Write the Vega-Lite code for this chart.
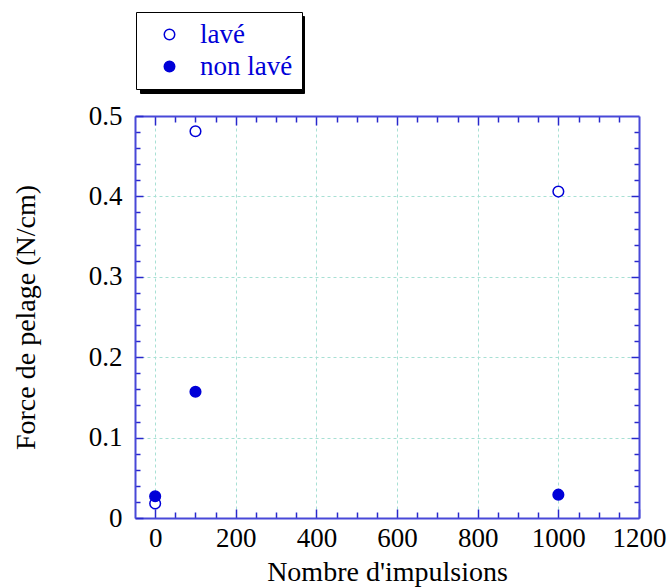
{
  "$schema": "https://vega.github.io/schema/vega-lite/v6.json",
  "autosize": {"type": "none"},
  "width": 504,
  "height": 402,
  "padding": {"left": 135, "top": 116, "right": 29, "bottom": 70},
  "background": "white",
  "config": {
    "view": {"stroke": null},
    "font": "Liberation Serif"
  },
  "data": {
    "values": [
      {"impulsions": 0, "force": 0.018, "serie": "lavé"},
      {"impulsions": 100, "force": 0.481, "serie": "lavé"},
      {"impulsions": 1000, "force": 0.406, "serie": "lavé"},
      {"impulsions": 0, "force": 0.027, "serie": "non lavé"},
      {"impulsions": 100, "force": 0.157, "serie": "non lavé"},
      {"impulsions": 1000, "force": 0.029, "serie": "non lavé"}
    ]
  },
  "resolve": {"axis": {"x": "independent", "y": "independent"}},
  "layer": [
    {
      "mark": {"type": "point", "shape": "circle", "opacity": 0},
      "encoding": {
        "x": {
          "field": "impulsions", "type": "quantitative",
          "scale": {"domain": [-50, 1200], "nice": false, "zero": false},
          "axis": {
            "orient": "top", "title": null, "labels": false, "grid": false,
            "values": [0,50,100,150,200,250,300,350,400,450,500,550,600,650,700,750,800,850,900,950,1000,1050,1100,1150],
            "domainColor": "#4848d8", "domainWidth": 2,
            "tickColor": "#2828cc", "tickWidth": 1.5,
            "tickSize": {"condition": {"test": "datum.value % 200 === 0", "value": -9}, "value": -6}
          }
        },
        "y": {
          "field": "force", "type": "quantitative",
          "scale": {"domain": [0, 0.5], "nice": false},
          "axis": {
            "orient": "right", "title": null, "labels": false, "grid": false,
            "values": [0.02,0.04,0.06,0.08,0.1,0.12,0.14,0.16,0.18,0.2,0.22,0.24,0.26,0.28,0.3,0.32,0.34,0.36,0.38,0.4,0.42,0.44,0.46,0.48],
            "domainColor": "#4848d8", "domainWidth": 2,
            "tickColor": "#2828cc", "tickWidth": 1.5,
            "tickSize": {"condition": {"test": "abs(datum.value*10 - round(datum.value*10)) < 0.001", "value": -8}, "value": -5}
          }
        },
        "shape": {
          "field": "serie", "type": "nominal",
          "scale": {"domain": ["non lavé", "lavé"], "range": ["circle", "circle"]},
          "legend": {
            "orient": "none", "legendX": 5, "legendY": -100, "title": null,
            "fillColor": "black", "strokeColor": "black", "zindex": 0,
            "padding": 9, "rowPadding": 4, "symbolOffset": 119, "labelOffset": 0,
            "symbolSize": 573, "symbolOpacity": 0, "symbolStrokeWidth": 0,
            "labelExpr": "''",
            "labelFont": "Liberation Serif", "labelFontSize": 27, "labelColor": "black"
          }
        }
      }
    },
    {
      "mark": {"type": "point", "shape": "circle", "size": 113, "strokeWidth": 1.5, "stroke": "#0000d8", "opacity": 1, "filled": false},
      "encoding": {
        "x": {
          "field": "impulsions", "type": "quantitative",
          "title": "Nombre d'impulsions",
          "axis": {
            "orient": "bottom", "format": "d",
            "values": [0,50,100,150,200,250,300,350,400,450,500,550,600,650,700,750,800,850,900,950,1000,1050,1100,1150,1200],
            "labelExpr": "datum.value % 200 === 0 ? datum.label : ''",
            "labelFont": "Liberation Serif", "labelFontSize": 27, "labelColor": "black",
            "labelPadding": 16, "labelFlush": false, "labelOverlap": false,
            "titleFont": "Liberation Serif", "titleFontSize": 28, "titleFontWeight": "normal", "titleColor": "black",
            "titlePadding": 4,
            "domainColor": "#4848d8", "domainWidth": 2,
            "tickColor": "#2828cc", "tickWidth": 1.5,
            "tickSize": {"condition": {"test": "datum.value % 200 === 0", "value": -9}, "value": -6},
            "grid": true, "gridColor": "#a8e0d4", "gridDash": [3, 3], "gridWidth": 1,
            "gridOpacity": {"condition": {"test": "datum.value % 200 === 0", "value": 1}, "value": 0}
          }
        },
        "y": {
          "field": "force", "type": "quantitative",
          "title": "Force de pelage (N/cm)",
          "axis": {
            "orient": "left", "format": ".1~f",
            "values": [0,0.02,0.04,0.06,0.08,0.1,0.12,0.14,0.16,0.18,0.2,0.22,0.24,0.26,0.28,0.3,0.32,0.34,0.36,0.38,0.4,0.42,0.44,0.46,0.48,0.5],
            "labelExpr": "abs(datum.value*10 - round(datum.value*10)) < 0.001 ? datum.label : ''",
            "labelFont": "Liberation Serif", "labelFontSize": 27, "labelColor": "black",
            "labelPadding": 21, "labelFlush": false, "labelOverlap": false,
            "titleFont": "Liberation Serif", "titleFontSize": 28, "titleFontWeight": "normal", "titleColor": "black",
            "titlePadding": 48,
            "domainColor": "#4848d8", "domainWidth": 2,
            "tickColor": "#2828cc", "tickWidth": 1.5,
            "tickSize": {"condition": {"test": "abs(datum.value*10 - round(datum.value*10)) < 0.001", "value": -8}, "value": -5},
            "grid": true, "gridColor": "#a8e0d4", "gridDash": [3, 3], "gridWidth": 1,
            "gridOpacity": {"condition": {"test": "abs(datum.value*10 - round(datum.value*10)) < 0.001", "value": 1}, "value": 0}
          }
        },
        "fill": {
          "field": "serie", "type": "nominal",
          "scale": {"domain": ["lavé", "non lavé"], "range": ["white", "#0000d8"]},
          "legend": {
            "orient": "none", "legendX": 1, "legendY": -104, "title": null,
            "fillColor": "white", "strokeColor": "black", "zindex": 1,
            "padding": 9, "rowPadding": 4, "symbolOffset": 11, "labelOffset": 17,
            "symbolSize": 110, "symbolStrokeColor": "#0000d8", "symbolStrokeWidth": 1.5, "symbolType": "circle",
            "labelFont": "Liberation Serif", "labelFontSize": 27, "labelColor": "#0000d8"
          }
        }
      }
    }
  ]
}
